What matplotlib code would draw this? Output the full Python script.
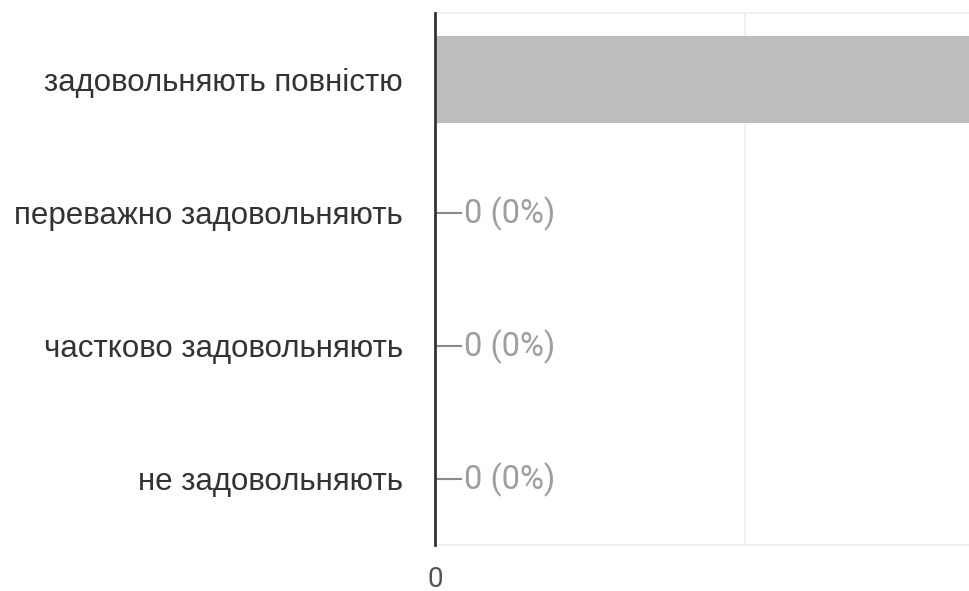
import matplotlib.pyplot as plt

categories = ['задовольняють повністю', 'переважно задовольняють',
              'частково задовольняють', 'не задовольняють']
counts = [2, 0, 0, 0]
percents = [100, 0, 0, 0]

plt.rcParams['font.family'] = ['Liberation Sans', 'DejaVu Sans']

fig = plt.figure(figsize=(9.69, 5.91), dpi=100)
ax = fig.add_axes([435 / 969, 1 - 545 / 591, 1 - 435 / 969, 532 / 591])

ypos = list(range(len(categories)))
ax.barh(ypos, counts, height=0.65, color='#bdbdbd', zorder=2)

# labels for empty bars, with the little connector line
for y, c, p in zip(ypos, counts, percents):
    if c == 0:
        ax.plot([0, 0.087], [y, y], color='#8a8a8a', lw=1.5, zorder=3,
                solid_capstyle='butt')
        ax.text(0.094, y + 0.01, f'{c} ({p}%)', va='center', ha='left',
                fontsize=23.5, color='#9e9e9e', family='Roboto')

ax.set_ylim(len(categories) - 0.5, -0.5)
ax.set_xlim(0, 534 / 310)
ax.set_yticks(ypos)
ax.set_yticklabels(categories, fontsize=22.5, color='#333333')
ax.tick_params(axis='y', length=0, pad=23)
ax.set_xticks([0])
ax.set_xticklabels(['0'], fontsize=20, color='#555555', family='Roboto')
ax.tick_params(axis='x', length=0, pad=15)
ax.set_xticks([1], minor=True)
ax.tick_params(axis='x', which='minor', length=0)
ax.grid(axis='x', which='minor', color='#eeeeee', lw=1.2, zorder=0)

for side in ['top', 'bottom']:
    ax.spines[side].set_color('#eeeeee')
    ax.spines[side].set_linewidth(1.2)
ax.spines['right'].set_visible(False)
ax.spines['left'].set_color('#333333')
ax.spines['left'].set_linewidth(2)
ax.spines['left'].set_zorder(4)

plt.savefig('out.png', dpi=100)
